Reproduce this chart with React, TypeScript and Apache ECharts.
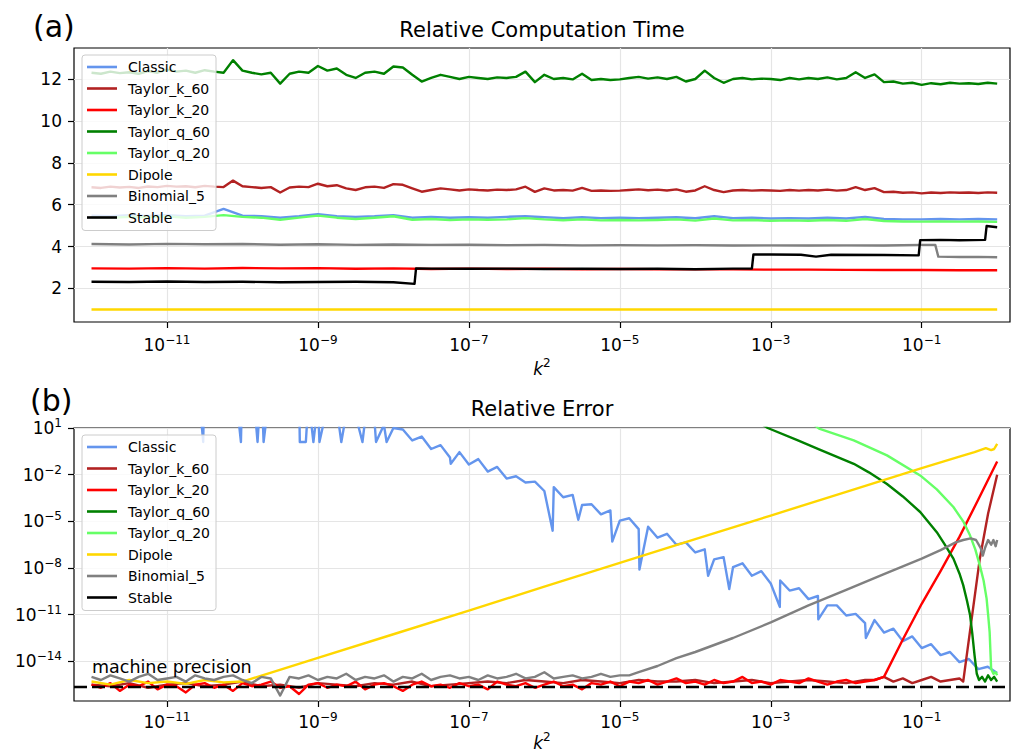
import React, { useEffect, useRef } from "react";
import * as echarts from "echarts";

const FONT = '"DejaVu Sans", "Liberation Sans", sans-serif';

// ---------- names / colours ----------
const NAMES = ["Classic", "Taylor_k_60", "Taylor_k_20", "Taylor_q_60", "Taylor_q_20", "Dipole", "Binomial_5", "Stable"];
const COLORS: Record<string, string> = {
  Classic: "#6495ED",
  Taylor_k_60: "#B22222",
  Taylor_k_20: "#FF0000",
  Taylor_q_60: "#008000",
  Taylor_q_20: "#66FF66",
  Dipole: "#FFD700",
  Binomial_5: "#808080",
  Stable: "#000000",
};

// ---------- ticks (x axis is log10(k^2), error axis is log10(error)) ----------
const X_TICKS = [-11, -9, -7, -5, -3, -1];
const TIME_TICKS = [2, 4, 6, 8, 10, 12];
const ERR_TICKS = [-14, -11, -8, -5, -2, 1];
const MACHINE_EPS_LOG = -15.654;

// ---------- x grids (log10 k^2) ----------
const X_Q = [-12, -11.75, -11.5, -11.25, -11, -10.75, -10.5, -10.25, -10, -9.75, -9.5, -9.25, -9, -8.75, -8.5, -8.25, -8, -7.75, -7.5, -7.25, -7, -6.75, -6.5, -6.25, -6, -5.75, -5.5, -5.25, -5, -4.75, -4.5, -4.25, -4, -3.75, -3.5, -3.25, -3, -2.75, -2.5, -2.25, -2, -1.75, -1.5, -1.25, -1, -0.75, -0.5, -0.25, 0];
const X_E = [-12, -11.875, -11.75, -11.625, -11.5, -11.375, -11.25, -11.125, -11, -10.875, -10.75, -10.625, -10.5, -10.375, -10.25, -10.125, -10, -9.875, -9.75, -9.625, -9.5, -9.375, -9.25, -9.125, -9, -8.875, -8.75, -8.625, -8.5, -8.375, -8.25, -8.125, -8, -7.875, -7.75, -7.625, -7.5, -7.375, -7.25, -7.125, -7, -6.875, -6.75, -6.625, -6.5, -6.375, -6.25, -6.125, -6, -5.875, -5.75, -5.625, -5.5, -5.375, -5.25, -5.125, -5, -4.875, -4.75, -4.625, -4.5, -4.375, -4.25, -4.125, -4, -3.875, -3.75, -3.625, -3.5, -3.375, -3.25, -3.125, -3, -2.875, -2.75, -2.625, -2.5, -2.375, -2.25, -2.125, -2, -1.875, -1.75, -1.625, -1.5, -1.375, -1.25, -1.125, -1, -0.875, -0.75, -0.625, -0.5, -0.375, -0.25, -0.125, 0];

// ---------- (a) relative computation time ----------
const timeClassic = [5.48, 5.45, 5.5, 5.46, 5.5, 5.45, 5.48, 5.8, 5.48, 5.45, 5.38, 5.45, 5.55, 5.45, 5.42, 5.45, 5.5, 5.38, 5.42, 5.38, 5.4, 5.38, 5.42, 5.45, 5.4, 5.36, 5.4, 5.36, 5.38, 5.36, 5.38, 5.4, 5.35, 5.45, 5.36, 5.38, 5.34, 5.36, 5.34, 5.38, 5.34, 5.42, 5.32, 5.3, 5.3, 5.32, 5.3, 5.32, 5.3];
const timeTq20 = [5.4, 5.38, 5.42, 5.4, 5.44, 5.38, 5.42, 5.5, 5.42, 5.38, 5.28, 5.38, 5.48, 5.38, 5.32, 5.38, 5.45, 5.28, 5.32, 5.27, 5.3, 5.28, 5.3, 5.36, 5.3, 5.26, 5.3, 5.25, 5.27, 5.25, 5.27, 5.3, 5.24, 5.34, 5.25, 5.27, 5.23, 5.25, 5.23, 5.27, 5.23, 5.32, 5.22, 5.2, 5.19, 5.2, 5.19, 5.2, 5.18];
const timeTq60 = [
  12.3, 12.25, 12.35, 12.28, 12.32, 12.25, 12.38, 12.3, 12.45, 12.35, 12.4, 12.3, 12.42, 12.35, 12.3, 12.9, 12.4, 12.3, 12.22, 12.3,
  11.78, 12.25, 12.35, 12.3, 12.62, 12.4, 12.5, 12.2, 12.05, 12.3, 12.35, 12.25, 12.6, 12.55, 12.2, 11.88, 12.05, 12.2, 12.1, 12.0,
  12.1, 12.05, 12.0, 12.08, 12.05, 12.1, 12.35, 11.85, 12.2, 12.0, 12.05, 11.98, 12.25, 11.95, 12.0, 11.95, 11.98, 12.05, 12.1, 12.02,
  12.08, 12.0, 12.1, 11.88, 12.0, 12.4, 12.05, 11.82, 12.0, 12.05, 11.98, 12.02, 12.0, 11.95, 12.05, 11.98, 12.05, 12.0, 12.08, 11.98,
  12.05, 12.32, 12.05, 12.22, 11.85, 11.88, 11.78, 11.82, 11.72, 11.8, 11.75, 11.82, 11.78, 11.8, 11.76, 11.82, 11.78,
];
const timeTk60 = [
  6.83, 6.8, 6.86, 6.82, 6.85, 6.8, 6.87, 6.84, 6.9, 6.86, 6.88, 6.83, 6.9, 6.86, 6.84, 7.15, 6.88, 6.84, 6.8, 6.84,
  6.58, 6.82, 6.86, 6.84, 7.0, 6.88, 6.93, 6.78, 6.7, 6.83, 6.86, 6.8, 6.98, 6.95, 6.78, 6.62, 6.7, 6.78, 6.73, 6.68,
  6.73, 6.7, 6.68, 6.72, 6.7, 6.73, 6.86, 6.61, 6.78, 6.68, 6.7, 6.67, 6.8, 6.66, 6.68, 6.66, 6.67, 6.7, 6.73, 6.69,
  6.72, 6.68, 6.73, 6.62, 6.68, 6.88, 6.7, 6.6, 6.68, 6.7, 6.67, 6.69, 6.68, 6.66, 6.7, 6.67, 6.7, 6.68, 6.72, 6.67,
  6.7, 6.84, 6.7, 6.79, 6.6, 6.62, 6.57, 6.59, 6.54, 6.58, 6.56, 6.59, 6.57, 6.58, 6.56, 6.59, 6.57,
];
const timeTk20X = [-12, -11.5, -11, -10.5, -10, -9.5, -9, -8.5, -8, -7.5, -7, -6.5, -6, -5.5, -5, -4.5, -4, -3.5, -3, -2.5, -2, -1.5, -1, -0.5, 0];
const timeTk20 = [2.96, 2.95, 2.97, 2.95, 2.98, 2.96, 2.97, 2.94, 2.96, 2.93, 2.95, 2.93, 2.94, 2.92, 2.93, 2.92, 2.92, 2.91, 2.9, 2.9, 2.89, 2.88, 2.88, 2.87, 2.87];
const timeDipoleX = [-12, -6, 0];
const timeDipole = [1.0, 1.0, 1.0];
const timeBinomX = [-12, -11.5, -11, -10.5, -10, -9.5, -9, -8.5, -8, -7.5, -7, -6.5, -6, -5.5, -5, -4.5, -4, -3.5, -3, -2.5, -2, -1.5, -1, -0.82, -0.78, -0.5, -0.25, 0];
const timeBinom = [4.12, 4.1, 4.13, 4.11, 4.12, 4.09, 4.11, 4.08, 4.1, 4.08, 4.09, 4.07, 4.08, 4.06, 4.07, 4.06, 4.07, 4.05, 4.06, 4.05, 4.06, 4.05, 4.08, 4.08, 3.52, 3.5, 3.51, 3.49];
const timeStableX = [-12, -11.5, -11, -10.5, -10, -9.5, -9, -8.5, -8, -7.72, -7.7, -7.5, -7, -6.5, -6, -5.5, -5, -4.5, -4, -3.5, -3.25, -3.23, -3, -2.6, -2.4, -2.2, -1.5, -1.04, -1.02, -0.75, -0.5, -0.16, -0.14, 0];
const timeStable = [2.32, 2.31, 2.33, 2.31, 2.32, 2.3, 2.31, 2.32, 2.3, 2.22, 2.96, 2.95, 2.94, 2.95, 2.93, 2.94, 2.93, 2.94, 2.92, 2.95, 2.95, 3.62, 3.62, 3.61, 3.52, 3.61, 3.6, 3.58, 4.31, 4.32, 4.3, 4.32, 4.98, 4.92];

// ---------- (b) relative error, log10 values ----------
const errClassic = [
  8.6, 8.3, 8.2, 7.8, 7.7, 7.3, 7.2, 6.8, 6.7, 6.3, 6.2, 5.8, 5.6, 5.5, 5.0, 4.9, 4.6, 4.4, 4.1, 3.9,
  3.7, 3.3, 3.1, 2.9, 2.6, 2.4, 2.2, 1.9, 1.8, 1.5, 1.4, 1.2, 1.0, 0.9, 0.2, 0.45, -0.35, -0.1, -0.9, -0.55,
  -1.35, -1.0, -1.8, -1.5, -2.25, -2.1, -2.5, -2.45, -3.05, -2.8, -3.45, -3.3, -3.95, -3.9, -4.55, -4.3, -4.95, -4.8, -5.5, -5.35,
  -6.05, -5.8, -6.5, -6.35, -7.0, -6.8, -7.45, -7.3, -7.95, -7.7, -8.5, -8.2, -9.0, -8.8, -9.45, -9.3, -10.0, -9.8, -10.4, -10.4,
  -11.05, -10.95, -11.55, -11.35, -12.15, -11.9, -12.7, -12.4, -13.15, -12.9, -13.6, -13.4, -14.05, -13.85, -14.5, -14.35, -14.75,
];
const errClassicSpikeX = [-10.52, -10.02, -9.8, -9.72, -9.24, -9.16, -9.06, -8.98, -8.69, -8.41, -8.23, -8.09, -7.24, -5.89, -5.55, -5.1, -4.74, -3.83, -3.55, -2.88, -2.37, -1.74];
const errClassicSpike = [0.1, 0.1, 0.1, 0.1, 0.1, 0.1, 0.1, 0.1, 0.1, 0.1, 0.1, 0.1, -1.3, -5.6, -4.9, -6.3, -8.1, -8.5, -9.35, -10.5, -11.3, -12.5];
const errTk60Noise = [-15.5, -15.6, -15.4, -15.7, -15.5, -15.4, -15.6, -15.5, -15.3, -15.6, -15.5, -15.7, -15.4, -15.5, -15.6, -15.4, -15.5, -15.3, -15.6, -15.5, -15.4, -15.3, -15.4, -15.2, -15.3, -15.4, -15.2, -15.3, -15.4, -15.2, -15.3, -15.3, -15.2, -15.4, -15.3, -15.2, -15.4, -15.3, -15.2, -15.3, -15.4, -15.2];
const errTk60TailX = [-1.625, -1.5, -1.375, -1.25, -1.125, -1, -0.875, -0.75, -0.625, -0.5, -0.45, -0.35, -0.23, -0.12, 0];
const errTk60Tail = [-15.2, -15.0, -15.3, -15.1, -15.4, -15.2, -15.0, -15.3, -15.2, -15.1, -15.3, -11.7, -7.4, -4.5, -2.0];
const errTk20Noise = [
  -15.5, -15.7, -15.4, -15.9, -15.5, -15.6, -15.3, -15.8, -15.5, -15.6,
  -16.0, -15.5, -15.4, -15.7, -15.5, -15.9, -15.4, -15.6, -15.5, -15.3,
  -15.7, -15.6, -16.1, -15.5, -15.4, -15.7, -15.5, -15.6, -15.3, -15.8,
  -15.5, -15.4, -15.6, -15.9, -15.5, -15.3, -15.6, -15.5, -15.7, -15.4,
  -15.6, -15.5, -15.8, -15.3, -15.5, -15.6, -15.4, -15.7, -15.5, -15.3,
  -15.6, -15.5, -15.8, -15.4, -15.5, -15.3, -15.6,
  -15.3, -15.4, -15.2, -15.5, -15.3, -15.1, -15.4, -15.3, -15.5, -15.2,
  -15.4, -15.3, -15.0, -15.4, -15.3, -15.5, -15.2, -15.3, -15.4, -15.1,
  -15.3, -15.5, -15.3, -15.2, -15.4, -15.3, -15.2, -15.0,
];
const errTk20TailX = [-1.25, -1, -0.75, -0.5, -0.25, 0];
const errTk20Tail = [-12.6, -10.3, -8.2, -6.0, -3.6, -1.15];
const errTq60X = [-3.2, -3.04, -2.64, -2.36, -1.9, -1.7, -1.46, -1.25, -1.02, -0.8, -0.7, -0.58, -0.5, -0.45, -0.4, -0.36, -0.33, -0.3, -0.27, -0.24, -0.2, -0.16, -0.12, -0.08, -0.04, 0];
const errTq60 = [1.5, 1.0, 0.2, -0.38, -1.3, -1.85, -2.6, -3.4, -4.4, -5.7, -6.45, -7.4, -8.35, -9.1, -10.1, -11.0, -12.2, -13.6, -14.8, -15.2, -15.0, -15.3, -14.9, -15.2, -15.0, -15.3];
const errTq20X = [-2.5, -2.36, -1.9, -1.46, -1.02, -0.8, -0.58, -0.45, -0.36, -0.29, -0.23, -0.18, -0.14, -0.12, -0.1, -0.08, -0.05, -0.02, 0];
const errTq20 = [1.5, 0.96, 0.2, -0.76, -2.05, -2.95, -4.08, -5.0, -5.9, -6.8, -7.83, -8.8, -9.97, -11.0, -12.1, -14.47, -14.8, -14.7, -14.9];
const errDipoleX = [-12, -11.75, -11.5, -11.25, -11, -10.75, -10.5, -10.25, -10, -9, -8, -7, -6, -5, -4, -3, -2, -1, -0.5, -0.3, -0.15, -0.08, -0.04, 0];
const errDipole = [-15.3, -15.5, -15.2, -15.4, -15.3, -15.45, -15.2, -15.35, -15.3, -13.78, -12.26, -10.74, -9.2, -7.67, -6.15, -4.63, -3.1, -1.58, -0.84, -0.55, -0.3, -0.42, -0.35, -0.02];
const errBinomNoise = [-15.0, -15.2, -14.9, -15.1, -15.3, -15.0, -14.8, -15.2, -15.1, -15.0, -15.3, -14.9, -15.1, -15.2, -15.0, -14.9, -15.2, -15.4, -15.0, -15.1, -16.2, -15.0, -15.1, -14.9, -15.2, -15.0, -15.1, -14.8, -15.2, -15.0, -15.1, -14.9, -15.3, -15.0, -15.1, -14.8, -15.2, -15.0, -14.9, -15.1, -15.0, -15.2, -14.9, -15.1, -15.0, -14.8, -15.1, -15.0, -14.7, -15.1, -15.0, -14.9, -15.1, -15.0, -14.8, -15.0, -14.9, -14.9];
const errBinomTailX = [-4.75, -4.5, -4.25, -4, -3.5, -3, -2.5, -2, -1.5, -1, -0.75, -0.55, -0.45, -0.35, -0.28, -0.22, -0.19, -0.16, -0.12, -0.08, -0.05, -0.02, 0];
const errBinomTail = [-14.7, -14.3, -13.8, -13.4, -12.5, -11.5, -10.4, -9.4, -8.4, -7.4, -6.85, -6.35, -6.2, -6.1, -6.2, -6.7, -7.2, -6.7, -6.2, -6.5, -6.2, -6.6, -6.2];
const errStable: number[] = []; // exactly zero error: nothing drawn on the log axis

// ---------- helpers ----------
const pairs = (xs: number[], ys: number[]) =>
  ys.map((y, i) => [xs[i], y]).filter((p) => p[0] !== undefined);
const byX = (a: number[], b: number[]) => a[0] - b[0];

const lineSeries = (name: string, data: number[][], axis: number) => ({
  type: "line",
  name,
  xAxisIndex: axis,
  yAxisIndex: axis,
  data,
  showSymbol: false,
  symbol: "none",
  clip: true,
  silent: true,
  emphasis: { disabled: true },
  lineStyle: { color: COLORS[name], width: 2.4, join: "round" },
  itemStyle: { color: COLORS[name] },
});

const sup = (v: number) => (v < 0 ? "\u2212" + Math.abs(v) : String(v));
const powRich = {
  b: { fontFamily: FONT, fontSize: 17, lineHeight: 22, color: "#000" },
  s: { fontFamily: FONT, fontSize: 12, lineHeight: 4, verticalAlign: "top", color: "#000" },
};
const nameRich = {
  k: { fontFamily: FONT, fontSize: 17, fontStyle: "italic", lineHeight: 24, color: "#000" },
  s: { fontFamily: FONT, fontSize: 12, lineHeight: 17, verticalAlign: "top", color: "#000" },
};

const xAxisFor = (gridIndex: number, labelMargin: number, nameGap: number) => ({
  type: "value",
  gridIndex,
  min: -12.232,
  max: 0.17,
  axisLine: { show: false, onZero: false },
  axisTick: { show: true, customValues: X_TICKS, length: 6, lineStyle: { color: "#000", width: 1.2 } },
  axisLabel: {
    customValues: X_TICKS,
    margin: labelMargin,
    formatter: (v: number) => `{b|10}{s|${sup(v)}}`,
    rich: powRich,
  },
  splitLine: { show: true, lineStyle: { color: "#e5e5e5", width: 1.2 } },
  name: "{k|k}{s|2}",
  nameLocation: "middle",
  nameGap,
  nameTextStyle: { rich: nameRich },
});

const legendFor = (top: number) => ({
  data: NAMES,
  orient: "vertical",
  left: 82,
  top,
  icon: "rect",
  itemWidth: 30,
  itemHeight: 2.6,
  itemGap: 7.5,
  selectedMode: false,
  backgroundColor: "rgba(255,255,255,0.8)",
  borderColor: "#cccccc",
  borderWidth: 1,
  borderRadius: 3,
  padding: [5, 6, 6, 5],
  textStyle: { fontFamily: FONT, fontSize: 14, lineHeight: 14, color: "#000", padding: [0, 0, 0, 6] },
});

const option = {
  animation: false,
  backgroundColor: "#ffffff",
  textStyle: { fontFamily: FONT },
  grid: [
    { left: 74, top: 48, width: 936, height: 274, show: true, borderColor: "#000", borderWidth: 1.2, backgroundColor: "transparent" },
    { left: 74, top: 428, width: 936, height: 273, show: true, borderColor: "#000", borderWidth: 1.2, backgroundColor: "transparent" },
  ],
  xAxis: [xAxisFor(0, 11.5, 35), xAxisFor(1, 10, 30)],
  yAxis: [
    {
      type: "value",
      gridIndex: 0,
      min: 0.4,
      max: 13.48,
      axisLine: { show: false, onZero: false },
      axisTick: { show: true, customValues: TIME_TICKS, length: 6, lineStyle: { color: "#000", width: 1.2 } },
      axisLabel: { customValues: TIME_TICKS, margin: 12, fontFamily: FONT, fontSize: 17, color: "#000" },
      splitLine: { show: true, lineStyle: { color: "#e5e5e5", width: 1.2 } },
    },
    {
      type: "value",
      gridIndex: 1,
      min: -16.55,
      max: 1,
      axisLine: { show: false, onZero: false },
      axisTick: { show: true, customValues: ERR_TICKS, length: 6, lineStyle: { color: "#000", width: 1.2 } },
      axisLabel: {
        customValues: ERR_TICKS,
        margin: 12,
        formatter: (v: number) => `{b|10}{s|${sup(v)}}`,
        rich: powRich,
      },
      splitLine: { show: true, lineStyle: { color: "#e5e5e5", width: 1.2 } },
    },
  ],
  legend: [legendFor(55), legendFor(435)],
  graphic: [
    { type: "text", x: 33, y: 26, style: { text: "(a)", fill: "#000", font: `30px ${FONT}`, textAlign: "left", textVerticalAlign: "middle", verticalAlign: "middle" } },
    { type: "text", x: 542, y: 30, style: { text: "Relative Computation Time", fill: "#000", font: `21px ${FONT}`, textAlign: "center", textVerticalAlign: "middle", verticalAlign: "middle" } },
    { type: "text", x: 30, y: 400, style: { text: "(b)", fill: "#000", font: `30px ${FONT}`, textAlign: "left", textVerticalAlign: "middle", verticalAlign: "middle" } },
    { type: "text", x: 542, y: 409, style: { text: "Relative Error", fill: "#000", font: `21px ${FONT}`, textAlign: "center", textVerticalAlign: "middle", verticalAlign: "middle" } },
    { type: "text", x: 92, y: 667, z: 10, style: { text: "machine precision", fill: "#000", font: `17.5px ${FONT}`, textAlign: "left", textVerticalAlign: "middle", verticalAlign: "middle" } },
  ],
  series: [
    // panel (a)
    lineSeries("Classic", pairs(X_Q, timeClassic), 0),
    lineSeries("Taylor_k_60", pairs(X_E, timeTk60), 0),
    lineSeries("Taylor_k_20", pairs(timeTk20X, timeTk20), 0),
    lineSeries("Taylor_q_60", pairs(X_E, timeTq60), 0),
    lineSeries("Taylor_q_20", pairs(X_Q, timeTq20), 0),
    lineSeries("Dipole", pairs(timeDipoleX, timeDipole), 0),
    lineSeries("Binomial_5", pairs(timeBinomX, timeBinom), 0),
    lineSeries("Stable", pairs(timeStableX, timeStable), 0),
    // panel (b)
    lineSeries("Classic", pairs(X_E, errClassic).concat(pairs(errClassicSpikeX, errClassicSpike)).sort(byX), 1),
    lineSeries("Taylor_k_60", pairs(X_Q, errTk60Noise).concat(pairs(errTk60TailX, errTk60Tail)), 1),
    lineSeries("Taylor_k_20", pairs(X_E, errTk20Noise).concat(pairs(errTk20TailX, errTk20Tail)), 1),
    lineSeries("Taylor_q_60", pairs(errTq60X, errTq60), 1),
    lineSeries("Taylor_q_20", pairs(errTq20X, errTq20), 1),
    lineSeries("Dipole", pairs(errDipoleX, errDipole), 1),
    lineSeries("Binomial_5", pairs(X_E, errBinomNoise).concat(pairs(errBinomTailX, errBinomTail)), 1),
    lineSeries("Stable", errStable.map((y, i) => [X_E[i], y]), 1),
    {
      type: "line",
      name: "machine precision",
      xAxisIndex: 1,
      yAxisIndex: 1,
      data: [[-12.232, MACHINE_EPS_LOG], [0.17, MACHINE_EPS_LOG]],
      showSymbol: false,
      symbol: "none",
      silent: true,
      z: 5,
      lineStyle: { color: "#000", width: 2.4, type: [13, 5] },
    },
  ],
};

export default function App() {
  const ref = useRef<HTMLDivElement>(null);
  useEffect(() => {
    if (!ref.current) return;
    const chart = echarts.init(ref.current, null, { renderer: "svg" });
    chart.setOption(option as any);
    return () => chart.dispose();
  }, []);
  return (
    <div
      ref={ref}
      style={{ position: "fixed", left: 0, top: 0, width: 1013, height: 754, background: "#fff" }}
    />
  );
}
